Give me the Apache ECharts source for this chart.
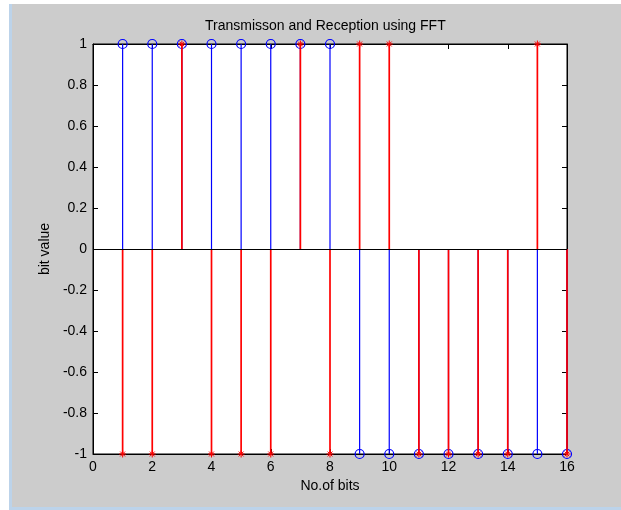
<!DOCTYPE html>
<html>
<head>
<meta charset="utf-8">
<script src="https://cdn.jsdelivr.net/npm/echarts@6/dist/echarts.min.js"></script>
<style>
  html, body { margin: 0; padding: 0; background: #ffffff; }
  #edge { position: absolute; left: 9px; top: 4px; width: 612px; height: 506px; background: #bcd3ea; }
  #fig { position: absolute; left: 12px; top: 4px; width: 609px; height: 503px; background: #cccccc; }
  #chart { position: absolute; left: 0; top: 0; width: 621px; height: 510px; }
</style>
</head>
<body>
<div id="edge"></div>
<div id="fig"></div>
<div id="chart"></div>
<script>
// ---- data ----
const bitIndex    = [1, 2, 3, 4, 5, 6, 7, 8, 9, 10, 11, 12, 13, 14, 15, 16];
const transmitted = [1, 1, 1, 1, 1, 1, 1, 1, -1, -1, -1, -1, -1, -1, -1, -1];
const received    = [-1, -1, 1, -1, -1, -1, 1, -1, 1, 1, -1, -1, -1, -1, 1, -1];
const xRange = [0, 16];
const xStep = 2;
const yRange = [-1, 1];
const yStep = 0.2;
const titleText = 'Transmisson and Reception using FFT';
const xName = 'No.of bits';
const yName = 'bit value';

const FONT = 'Liberation Sans, Arial, sans-serif';
const BLUE = '#0000ff';
const RED = '#ff0000';

const txPoints = bitIndex.map((b, i) => [b, transmitted[i]]);
const rxPoints = bitIndex.map((b, i) => [b, received[i]]);
const baselineEnds = [[xRange[0], xRange[1]]];

function stemRenderer(color, width) {
  return function (params, api) {
    const x = api.value(0), y = api.value(1);
    const p0 = api.coord([x, 0]);
    const p1 = api.coord([x, y]);
    return {
      type: 'line',
      shape: { x1: p0[0], y1: p0[1], x2: p1[0], y2: p1[1] },
      style: { stroke: color, lineWidth: width }
    };
  };
}

function baselineRenderer(params, api) {
  const a = api.coord([api.value(0), 0]);
  const b = api.coord([api.value(1), 0]);
  const y = Math.round(a[1]) + 0.5;
  return {
    type: 'line',
    shape: { x1: a[0], y1: y, x2: b[0], y2: y },
    style: { stroke: '#000', lineWidth: 1 }
  };
}

function axisCommon() {
  return {
    axisLine: { show: true, onZero: false, lineStyle: { color: '#000', width: 1 } },
    axisTick: { show: true, inside: true, length: 5, lineStyle: { color: '#000' } },
    splitLine: { show: false }
  };
}

const chart = echarts.init(document.getElementById('chart'), null, { renderer: 'canvas' });
chart.setOption({
  animation: false,
  backgroundColor: 'transparent',
  title: {
    text: titleText,
    left: 205,
    top: 19,
    padding: 0,
    textStyle: { fontFamily: FONT, fontSize: 14, fontWeight: 'normal', color: '#000' }
  },
  grid: { left: 93, right: 54, top: 44, bottom: 56, show: true, backgroundColor: '#ffffff', borderColor: '#000', borderWidth: 1 },
  xAxis: [
    Object.assign({
      type: 'value', min: xRange[0], max: xRange[1], interval: xStep, position: 'bottom',
      name: xName, nameLocation: 'middle', nameGap: 24,
      nameTextStyle: { fontFamily: FONT, fontSize: 14, color: '#000' },
      axisLabel: { fontFamily: FONT, fontSize: 14, color: '#000', margin: 6 }
    }, axisCommon()),
    Object.assign({
      type: 'value', min: xRange[0], max: xRange[1], interval: xStep, position: 'top',
      axisLabel: { show: false }
    }, axisCommon())
  ],
  yAxis: [
    Object.assign({
      type: 'value', min: yRange[0], max: yRange[1], interval: yStep, position: 'left',
      name: yName, nameLocation: 'middle', nameGap: 34,
      nameTextStyle: { fontFamily: FONT, fontSize: 14, color: '#000' },
      axisLabel: { fontFamily: FONT, fontSize: 14, color: '#000', margin: 6,
        formatter: v => String(+v.toFixed(1)) }
    }, axisCommon()),
    Object.assign({
      type: 'value', min: yRange[0], max: yRange[1], interval: yStep, position: 'right',
      axisLabel: { show: false }
    }, axisCommon())
  ],
  series: [
    { type: 'custom', name: 'tx stems', data: txPoints, renderItem: stemRenderer(BLUE, 1.2), clip: false, z: 2 },
    { type: 'scatter', name: 'tx marks', data: txPoints, symbol: 'circle', symbolSize: 9, clip: false, z: 3,
      itemStyle: { color: 'transparent', borderColor: BLUE, borderWidth: 1.2, opacity: 1 } },
    { type: 'custom', name: 'rx stems', data: rxPoints, renderItem: stemRenderer(RED, 1.7), clip: false, z: 4 },
    { type: 'scatter', name: 'rx marks', data: rxPoints,
      symbol: 'path://M0,5L10,5M5,0L5,10M1.5,1.5L8.5,8.5M1.5,8.5L8.5,1.5', symbolSize: 7, clip: false, z: 5,
      itemStyle: { color: 'none', borderColor: RED, borderWidth: 1, opacity: 1 } },
    { type: 'custom', name: 'baseline', data: baselineEnds, renderItem: baselineRenderer,
      encode: { x: [0, 1] }, clip: false, z: 6, silent: true }
  ]
});
</script>
</body>
</html>
